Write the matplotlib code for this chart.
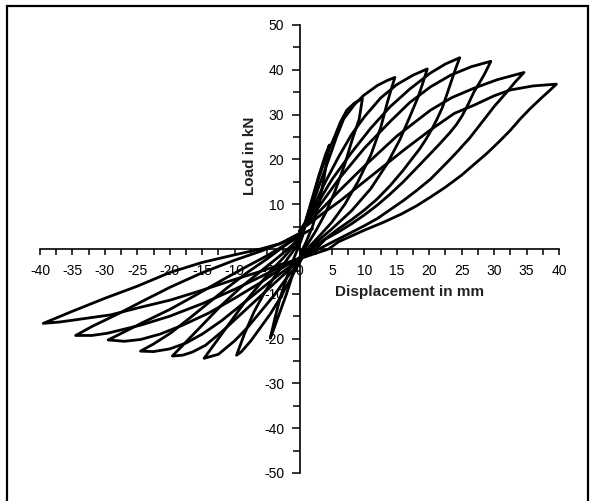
import matplotlib
matplotlib.use('Agg')
import matplotlib.pyplot as plt
from matplotlib.ticker import MultipleLocator
from matplotlib.patches import Rectangle

plt.rcParams['font.family'] = ['Liberation Sans', 'DejaVu Sans']

# cycle data (displacement mm, load kN)
# each cycle: positive loading -> unloading -> negative loading -> unloading
c5_x = [-0.5, 0, 1, 2, 3, 4, 4.6, 3.8, 3, 2, 1, 0.5, 0, -1, -2, -3, -4, -4.5,
        -3.8, -3, -2, -1, 0, 0.5]
c5_y = [0, 2, 6.5, 11.5, 16.5, 21, 23.2, 16, 10, 5, 1.5, 0, -2, -5.5, -10, -14, -18, -19.9,
        -15.5, -11, -6.5, -2.5, 1, 3]

c10_x = [0.5, 1, 2, 3, 4.2, 5.3, 6.3, 7.3, 8.5, 9.7, 9.2, 8.1, 7, 5.5, 4, 2.5, 1,
         0, -1.5, -3, -4.5, -6, -7.5, -9, -9.7,
         -8.5, -7, -5.5, -4, -2.5, -1, 0, 0.5]
c10_y = [3, 6.5, 11, 16, 21, 24.7, 28.3, 31, 32.6, 33.6, 29, 24.3, 19, 13, 8, 4, 0.5,
         -3, -7, -11, -14.5, -17.5, -20.5, -23, -23.7,
         -19, -14, -10, -6.5, -3.5, -0.5, 2, 3.5]

c15_x = [0.5, 1.5, 3, 4.5, 5.7, 6.8, 8.5, 9.9, 12, 13.5, 14.7,
         14, 13.5, 12.5, 11, 9, 7, 5, 3, 1.5,
         0, -2, -4, -6, -8, -10, -12.5, -14.7,
         -12.5, -10.5, -8.5, -6.5, -4.5, -2.5, -1, 0]
c15_y = [3.5, 8, 14, 20, 25, 29, 32.3, 34.3, 36.5, 37.6, 38.3,
         35, 32.5, 27, 21, 15, 10, 6, 2.8, 0.5,
         -3, -6.5, -10.5, -14, -17.5, -20.5, -23.5, -24.4,
         -20, -16, -12, -8.5, -5, -2, 0.5, 3]

c20_x = [0, 2, 4, 6, 8, 10, 12.5, 15, 17.5, 19.7,
         19, 18.3, 17, 15.5, 13.5, 11, 8, 5, 3, 1.5,
         0, -3, -6, -9, -12, -14.5, -16.5, -18, -19.6,
         -18, -16, -14, -12, -9, -6, -3, -1, 0]
c20_y = [3, 9, 15, 20.5, 25.5, 29.5, 33.7, 36.7, 38.8, 40.2,
         37, 34, 29.5, 24.5, 19, 13.5, 8.5, 4.5, 2, 0,
         -2.5, -6.5, -10.5, -14.5, -18.5, -21.5, -23, -23.7, -23.9,
         -21.5, -18.5, -15.5, -12.5, -8.5, -5, -1.5, 1, 3]

c25_x = [0, 2.5, 5, 8, 11, 14, 17, 20.2, 22.5, 24.7,
         24, 23.3, 22.6, 22, 21.2, 20.5, 19.5, 18.5, 17, 16, 14, 12, 10, 8, 6, 4, 1.8,
         0, -3, -6, -9, -12, -15, -17.5, -20, -22.5, -24.5,
         -22.5, -19.9, -17, -14, -11, -8, -5, -2.5, 0]
c25_y = [4, 9.5, 15.5, 21.5, 27, 31.8, 35.7, 39.3, 41.3, 42.7,
         40, 37, 34, 31.5, 29, 27, 24.5, 22.3, 19.5, 17.6, 14.2, 11.2, 8.7, 6.5, 4.5, 2.3, 0,
         -2.5, -5.5, -9, -12.5, -16, -19, -21, -22.3, -22.9, -22.8,
         -21.2, -18.8, -15.5, -12, -8.5, -5.2, -2.2, 0.5, 3]

c30_x = [0, 3, 6, 10, 14, 17, 20.2, 23.3, 26.5, 29.5,
         28.5, 27.7, 26.9, 26, 25.1, 24.2, 23.2, 21.5, 19, 16, 14, 12, 10, 8, 6, 4, 2.5,
         0, -3, -6, -10, -14, -18, -21.5, -24.5, -27, -29.5,
         -27, -24, -20, -16, -12, -8, -5, -2.5, 0]
c30_y = [4, 9.5, 15.5, 22.5, 28.5, 32.7, 36.2, 38.8, 40.7, 41.9,
         39, 37, 35.1, 32.3, 29.8, 27.8, 26, 23.3, 19.5, 15, 12.3, 9.8, 7.6, 5.6, 3.8, 2.2, 0,
         -2, -4.5, -7.5, -11, -14.3, -17, -19, -20.2, -20.6, -20.3,
         -18.5, -16.3, -13.5, -10.3, -7, -3.8, -1.5, 0.7, 3]

c35_x = [0, 3, 6, 10, 15, 20.2, 23.5, 26.9, 30.5, 34.6,
         33.2, 32, 30, 28.4, 26.3, 24.5, 23, 21.5, 20.2, 18, 16, 14, 12, 10, 8, 6.5, 5, 3,
         0, -3, -6, -10, -15, -20, -24.5, -29.6, -32, -34.5,
         -32, -28, -24, -19.9, -15, -10, -6, -3, 0]
c35_y = [4, 8.3, 12.8, 18.5, 25.2, 31, 33.8, 35.9, 37.8, 39.4,
         37.2, 35.1, 31.8, 28.8, 24.9, 22, 19.7, 17.5, 15.6, 13, 10.8, 8.8, 6.8, 5.2, 3.7, 2.6, 1.5, 0,
         -2, -4, -6.2, -9, -12.2, -15, -17, -18.8, -19.3, -19.3,
         -17.3, -14.5, -11.5, -8.5, -5.3, -2.5, -0.5, 1.2, 3.5]

c40_x = [0, 3, 6.4, 9.5, 12.2, 16, 20.2, 23.9, 26.9, 30, 32.5, 36, 39.6,
         38.5, 37.5, 35.6, 34, 32.5, 30.8, 29, 27, 25, 22.5, 20.2, 18, 15.7, 13, 10, 8, 6, 4.5,
         2, 0, -3, -6, -10, -15, -19.9, -24.5, -29.1, -34.5, -37, -39.5,
         -35, -30, -25, -19.9, -15, -10, -6, -3, 0, 2]
c40_y = [4, 7.3, 10.9, 14.5, 17.6, 22, 26.6, 30.3, 32.1, 34.2, 35.5, 36.4, 36.8,
         35.3, 34, 31.4, 29, 26.5, 24, 21.5, 19, 16.5, 13.8, 11.6, 9.6, 7.8, 6, 4.2, 2.9, 1.6, 0,
         -1.2, -2.2, -3.5, -5, -6.8, -9.2, -11.4, -13, -14.7, -15.8, -16.3, -16.6,
         -13.9, -11, -8.3, -5.2, -3, -1.3, 0, 1.2, 3, 4.5]

x_ticks = [-40, -35, -30, -25, -20, -15, -10, -5, 0, 5, 10, 15, 20, 25, 30, 35, 40]
y_ticks = [-50, -40, -30, -20, -10, 0, 10, 20, 30, 40, 50]
y_labels = ['-50', '-40', '-30', '-20', '-10', '', '10', '20', '30', '40', '50']

cycles = [(c5_x, c5_y), (c10_x, c10_y), (c15_x, c15_y), (c20_x, c20_y),
          (c25_x, c25_y), (c30_x, c30_y), (c35_x, c35_y), (c40_x, c40_y)]

fig = plt.figure(figsize=(5.93, 5.01), dpi=100)
ax = fig.add_axes([40 / 593, 28 / 501, 519 / 593, 448 / 501])
ax.patch.set_visible(False)

for x, y in cycles:
    ax.plot(x, y, color='black', lw=2.0, solid_joinstyle='round', solid_capstyle='round')

ax.set_xlim(-40, 40)
ax.set_ylim(-50, 50)

ax.spines['left'].set_position(('data', 0))
ax.spines['bottom'].set_position(('data', 0))
ax.spines['top'].set_visible(False)
ax.spines['right'].set_visible(False)
for s in ['left', 'bottom']:
    ax.spines[s].set_linewidth(1.2)

ax.set_xticks(x_ticks)
ax.set_xticklabels([str(t) for t in x_ticks])
ax.xaxis.set_minor_locator(MultipleLocator(2.5))
ax.set_yticks(y_ticks)
ax.set_yticklabels(y_labels)
ax.yaxis.set_minor_locator(MultipleLocator(5))

ax.tick_params(axis='x', which='both', direction='out', length=4.5, width=1.1,
               labelsize=10, pad=6)
ax.tick_params(axis='y', which='major', direction='out', length=6, width=1.1,
               labelsize=10, pad=5)
ax.tick_params(axis='y', which='minor', direction='out', length=5, width=1.1)

ax.text(-7.7, 20.8, 'Load in kN', rotation=90, ha='center', va='center',
        fontsize=11, fontweight='bold', color='#222222')
ax.text(16.95, -9.7, 'Displacement in mm', ha='center', va='center',
        fontsize=11, fontweight='bold', color='#222222')

# frame round the figure (bottom edge is cut off in the original)
fig.patches.append(Rectangle((7 / 593, -0.05), 581 / 593, 1.05 - 6 / 501,
                             transform=fig.transFigure, fill=False, lw=1.6,
                             ec='black', clip_on=False))

fig.savefig('out.png', dpi=100)
